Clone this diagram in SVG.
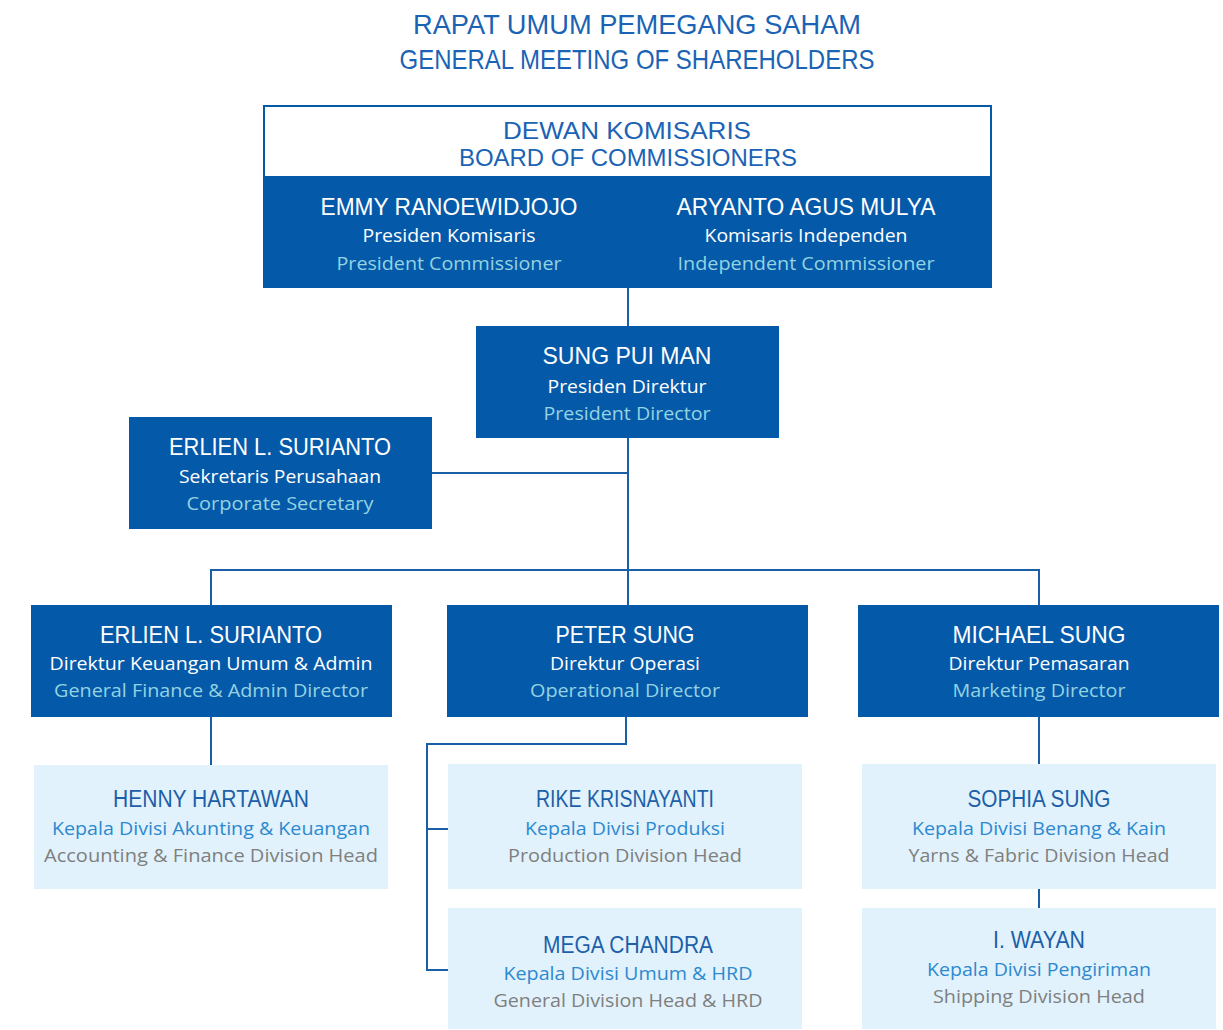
<svg xmlns="http://www.w3.org/2000/svg" width="1223" height="1030" viewBox="0 0 1223 1030">
<style>
.dk{fill:#0559a9}
.lt{fill:#e1f2fc}
.ttl{font-family:"Liberation Sans",Arial,sans-serif;font-size:28px;fill:#1b63b4;text-anchor:middle}
.bh{font-family:"Liberation Sans",Arial,sans-serif;font-size:24px;fill:#1b63b4;text-anchor:middle}
.nm{font-family:"Liberation Sans",Arial,sans-serif;font-size:24px;fill:#ffffff;text-anchor:middle}
.r1{font-family:"Open Sans","Liberation Sans",sans-serif;font-size:18px;fill:#ffffff;text-anchor:middle}
.r2{font-family:"Open Sans","Liberation Sans",sans-serif;font-size:18px;fill:#93d3e2;text-anchor:middle}
.ln{font-family:"Liberation Sans",Arial,sans-serif;font-size:23px;fill:#1d5fa8;text-anchor:middle}
.l1{font-family:"Open Sans","Liberation Sans",sans-serif;font-size:18px;fill:#2d89cf;text-anchor:middle}
.l2{font-family:"Open Sans","Liberation Sans",sans-serif;font-size:18px;fill:#7f7f7f;text-anchor:middle}
.cn{fill:none;stroke:#1a5ea8;stroke-width:2}
</style>
<g id="title">
<text class="ttl" x="637" y="34" textLength="448" lengthAdjust="spacingAndGlyphs">RAPAT UMUM PEMEGANG SAHAM</text>
<text class="ttl" x="637" y="69" textLength="475" lengthAdjust="spacingAndGlyphs">GENERAL MEETING OF SHAREHOLDERS</text>
</g>
<g id="connectors">
<path class="cn" d="M628 288V326"/>
<path class="cn" d="M628 438V570M432 473H628"/>
<path class="cn" d="M211 605V570H1039V605M628 570V605"/>
<path class="cn" d="M211 717V765"/>
<path class="cn" d="M626 717V744H427V970H448M427 829H448"/>
<path class="cn" d="M1039 717V764M1039 889V908"/>
</g>
<g id="board">
<rect x="264" y="106" width="727" height="80" fill="#ffffff" stroke="#0559a9" stroke-width="2"/>
<rect class="dk" x="263" y="176" width="729" height="112"/>
<text class="bh" x="627" y="139" textLength="248" lengthAdjust="spacingAndGlyphs">DEWAN KOMISARIS</text>
<text class="bh" x="628" y="166" textLength="338" lengthAdjust="spacingAndGlyphs">BOARD OF COMMISSIONERS</text>
<text class="nm" x="449" y="215" textLength="257" lengthAdjust="spacingAndGlyphs">EMMY RANOEWIDJOJO</text>
<text class="r1" x="449" y="242" textLength="173" lengthAdjust="spacingAndGlyphs">Presiden Komisaris</text>
<text class="r2" x="449" y="270" textLength="225" lengthAdjust="spacingAndGlyphs">President Commissioner</text>
<text class="nm" x="806" y="215" textLength="259" lengthAdjust="spacingAndGlyphs">ARYANTO AGUS MULYA</text>
<text class="r1" x="806" y="242" textLength="203" lengthAdjust="spacingAndGlyphs">Komisaris Independen</text>
<text class="r2" x="806" y="270" textLength="257" lengthAdjust="spacingAndGlyphs">Independent Commissioner</text>
</g>
<g id="president-director">
<rect class="dk" x="476" y="326" width="303" height="112"/>
<text class="nm" x="627" y="364" textLength="169" lengthAdjust="spacingAndGlyphs">SUNG PUI MAN</text>
<text class="r1" x="627" y="393" textLength="159" lengthAdjust="spacingAndGlyphs">Presiden Direktur</text>
<text class="r2" x="627" y="420" textLength="167" lengthAdjust="spacingAndGlyphs">President Director</text>
</g>
<g id="corporate-secretary">
<rect class="dk" x="129" y="417" width="303" height="112"/>
<text class="nm" x="280" y="455" textLength="222" lengthAdjust="spacingAndGlyphs">ERLIEN L. SURIANTO</text>
<text class="r1" x="280" y="483" textLength="202" lengthAdjust="spacingAndGlyphs">Sekretaris Perusahaan</text>
<text class="r2" x="280" y="510" textLength="187" lengthAdjust="spacingAndGlyphs">Corporate Secretary</text>
</g>
<g id="finance-director">
<rect class="dk" x="31" y="605" width="361" height="112"/>
<text class="nm" x="211" y="643" textLength="222" lengthAdjust="spacingAndGlyphs">ERLIEN L. SURIANTO</text>
<text class="r1" x="211" y="670" textLength="323" lengthAdjust="spacingAndGlyphs">Direktur Keuangan Umum &amp; Admin</text>
<text class="r2" x="211" y="697" textLength="314" lengthAdjust="spacingAndGlyphs">General Finance &amp; Admin Director</text>
</g>
<g id="operational-director">
<rect class="dk" x="447" y="605" width="361" height="112"/>
<text class="nm" x="625" y="643" textLength="139" lengthAdjust="spacingAndGlyphs">PETER SUNG</text>
<text class="r1" x="625" y="670" textLength="150" lengthAdjust="spacingAndGlyphs">Direktur Operasi</text>
<text class="r2" x="625" y="697" textLength="190" lengthAdjust="spacingAndGlyphs">Operational Director</text>
</g>
<g id="marketing-director">
<rect class="dk" x="858" y="605" width="361" height="112"/>
<text class="nm" x="1039" y="643" textLength="173" lengthAdjust="spacingAndGlyphs">MICHAEL SUNG</text>
<text class="r1" x="1039" y="670" textLength="181" lengthAdjust="spacingAndGlyphs">Direktur Pemasaran</text>
<text class="r2" x="1039" y="697" textLength="173" lengthAdjust="spacingAndGlyphs">Marketing Director</text>
</g>
<g id="accounting-head">
<rect class="lt" x="34" y="765" width="354" height="124"/>
<text class="ln" x="211" y="807" textLength="196" lengthAdjust="spacingAndGlyphs">HENNY HARTAWAN</text>
<text class="l1" x="211" y="835" textLength="318" lengthAdjust="spacingAndGlyphs">Kepala Divisi Akunting &amp; Keuangan</text>
<text class="l2" x="211" y="862" textLength="334" lengthAdjust="spacingAndGlyphs">Accounting &amp; Finance Division Head</text>
</g>
<g id="production-head">
<rect class="lt" x="448" y="764" width="354" height="125"/>
<text class="ln" x="625" y="807" textLength="178" lengthAdjust="spacingAndGlyphs">RIKE KRISNAYANTI</text>
<text class="l1" x="625" y="835" textLength="200" lengthAdjust="spacingAndGlyphs">Kepala Divisi Produksi</text>
<text class="l2" x="625" y="862" textLength="234" lengthAdjust="spacingAndGlyphs">Production Division Head</text>
</g>
<g id="general-head">
<rect class="lt" x="448" y="908" width="354" height="121"/>
<text class="ln" x="628" y="953" textLength="170" lengthAdjust="spacingAndGlyphs">MEGA CHANDRA</text>
<text class="l1" x="628" y="980" textLength="249" lengthAdjust="spacingAndGlyphs">Kepala Divisi Umum &amp; HRD</text>
<text class="l2" x="628" y="1007" textLength="269" lengthAdjust="spacingAndGlyphs">General Division Head &amp; HRD</text>
</g>
<g id="yarns-head">
<rect class="lt" x="862" y="764" width="354" height="125"/>
<text class="ln" x="1039" y="807" textLength="143" lengthAdjust="spacingAndGlyphs">SOPHIA SUNG</text>
<text class="l1" x="1039" y="835" textLength="254" lengthAdjust="spacingAndGlyphs">Kepala Divisi Benang &amp; Kain</text>
<text class="l2" x="1039" y="862" textLength="261" lengthAdjust="spacingAndGlyphs">Yarns &amp; Fabric Division Head</text>
</g>
<g id="shipping-head">
<rect class="lt" x="862" y="908" width="354" height="121"/>
<text class="ln" x="1039" y="948" textLength="92" lengthAdjust="spacingAndGlyphs">I. WAYAN</text>
<text class="l1" x="1039" y="976" textLength="224" lengthAdjust="spacingAndGlyphs">Kepala Divisi Pengiriman</text>
<text class="l2" x="1039" y="1003" textLength="212" lengthAdjust="spacingAndGlyphs">Shipping Division Head</text>
</g>
</svg>
